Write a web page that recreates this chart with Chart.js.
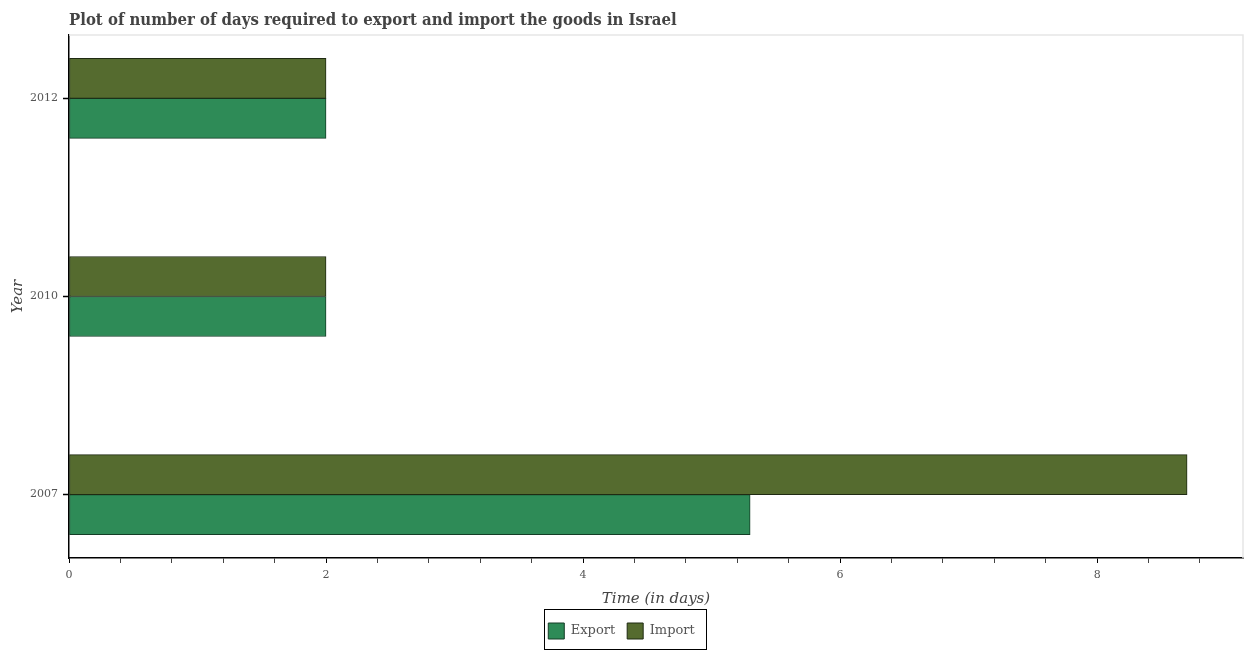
<!DOCTYPE html>
<html>
<head>
<meta charset="utf-8">
<script src="https://cdn.jsdelivr.net/npm/chart.js@4/dist/chart.umd.min.js"></script>
<style>
  body { margin: 0; background: #fff; }
  #wrap { position: relative; width: 1250px; height: 650px; }
  #title {
    position: absolute; left: 69px; top: 9px;
    font: bold 16.6px "DejaVu Serif", serif;
    font-stretch: condensed;
    color: #444;
    white-space: nowrap;
  }
</style>
</head>
<body>
<div id="wrap">
  <canvas id="barChart" width="1250" height="650"></canvas>
  <div id="title">Plot of number of days required to export and import the goods in Israel</div>
</div>
<script>
const years = ['2007', '2010', '2012'];
const exportDays = [5.3, 2, 2];
const importDays = [8.7, 2, 2];
const xTickValues = [];
for (let i = 0; i <= 22; i++) xTickValues.push(Math.round(i * 4) / 10);

const serif = "'DejaVu Serif', serif";
const isMajor = v => Math.abs(v - Math.round(v)) < 1e-9 && Math.round(v) % 2 === 0;

// light frame on top / right, and the box round the legend
const framePlugin = {
  id: 'frame',
  afterDraw(chart) {
    const ctx = chart.ctx;
    const a = chart.chartArea;
    ctx.save();
    ctx.strokeStyle = '#e6e6e6';
    ctx.lineWidth = 1.5;
    ctx.beginPath();
    ctx.moveTo(a.left, a.top);
    ctx.lineTo(a.right, a.top);
    ctx.lineTo(a.right, a.bottom);
    ctx.stroke();
    ctx.strokeStyle = '#000';
    ctx.lineWidth = 1;
    ctx.strokeRect(544.5, 609.5, 162, 40);
    ctx.restore();
  }
};

const ctx = document.getElementById('barChart').getContext('2d');
new Chart(ctx, {
  type: 'bar',
  data: {
    datasets: [
      {
        label: 'Import',
        data: importDays.map((v, i) => ({ x: v, y: i })),
        backgroundColor: '#556b2f',
        borderColor: '#1f2a12',
        borderWidth: 1,
        borderSkipped: false,
        barThickness: 40
      },
      {
        label: 'Export',
        data: exportDays.map((v, i) => ({ x: v, y: i })),
        backgroundColor: '#2e8b57',
        borderColor: '#143d26',
        borderWidth: 1,
        borderSkipped: false,
        barThickness: 40
      }
    ]
  },
  options: {
    indexAxis: 'y',
    responsive: false,
    animation: false,
    layout: { padding: { top: 35, right: 7, bottom: 1, left: 0 } },
    plugins: {
      legend: {
        position: 'bottom',
        reverse: true,
        labels: {
          boxWidth: 16,
          boxHeight: 16,
          padding: 12,
          color: '#555',
          font: { family: serif, size: 13 }
        }
      },
      title: { display: false },
      tooltip: { enabled: false }
    },
    scales: {
      x: {
        type: 'linear',
        min: 0,
        max: 9.135,
        afterBuildTicks: scale => { scale.ticks = xTickValues.map(v => ({ value: v })); },
        afterFit: scale => { scale.height = 53; },
        grid: {
          drawOnChartArea: false,
          tickLength: 5,
          tickColor: c => (isMajor(c.tick.value) ? '#000' : '#444')
        },
        border: { color: '#000', width: 1.5 },
        ticks: {
          autoSkip: false,
          maxRotation: 0,
          padding: 6,
          color: '#555',
          font: { family: serif, size: 11 },
          callback: v => (isMajor(v) ? String(Math.round(v)) : '')
        },
        title: {
          display: true,
          text: 'Time (in days)',
          color: '#444',
          padding: { top: 2, bottom: 3 },
          font: { family: serif, size: 15, style: 'italic' }
        }
      },
      y: {
        type: 'linear',
        min: -0.32,
        max: 2.32,
        offset: false,
        afterBuildTicks: scale => { scale.ticks = years.map((y, i) => ({ value: i })); },
        afterFit: scale => { scale.width = 69; },
        grid: { offset: false, drawOnChartArea: false, drawTicks: true, tickLength: 6, tickColor: '#000', tickWidth: 1.5 },
        border: { color: '#000', width: 1.5 },
        ticks: {
          autoSkip: false,
          padding: 5,
          color: '#555',
          font: { family: serif, size: 11 },
          callback: v => years[v]
        },
        title: {
          display: true,
          text: 'Year',
          color: '#444',
          padding: { top: 9, bottom: 0 },
          font: { family: serif, size: 15, style: 'italic' }
        }
      }
    }
  },
  plugins: [framePlugin]
});
</script>
</body>
</html>
